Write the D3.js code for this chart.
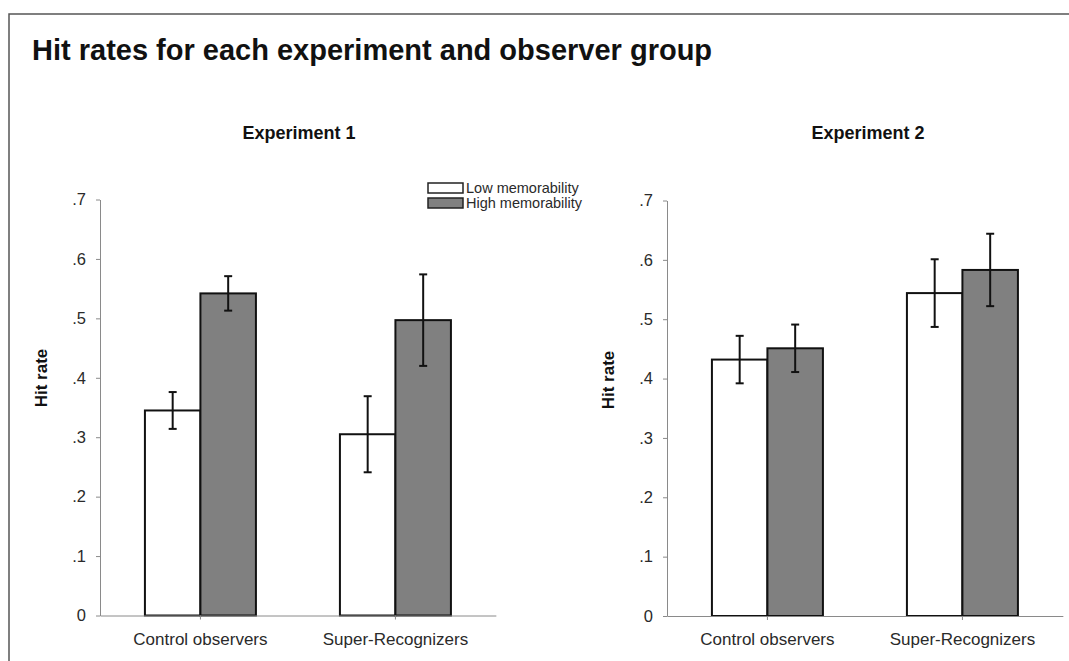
<!DOCTYPE html>
<html>
<head>
<meta charset="utf-8">
<script src="https://cdn.jsdelivr.net/npm/d3@7"></script>
<style>
  html, body { margin: 0; padding: 0; background: #fff; }
  svg { display: block; font-family: "Liberation Sans", Arial, Helvetica, sans-serif; }
</style>
</head>
<body>
<div id="chart"></div>
<script>
// --------------- Data ---------------
const groups = ["Control observers", "Super-Recognizers"];
const series = ["Low memorability", "High memorability"];
const tickValues = [0, 0.1, 0.2, 0.3, 0.4, 0.5, 0.6, 0.7];
const tickLabels = ["0", ".1", ".2", ".3", ".4", ".5", ".6", ".7"];

const exp1Low = [0.345, 0.305];
const exp1LowErr = [0.031, 0.064];
const exp1High = [0.542, 0.497];
const exp1HighErr = [0.029, 0.077];

const exp2Low = [0.432, 0.544];
const exp2LowErr = [0.040, 0.057];
const exp2High = [0.451, 0.583];
const exp2HighErr = [0.040, 0.061];

// --------------- Constants ---------------
const WIDTH = 1069;
const HEIGHT = 661;
const FILL = { "Low memorability": "#ffffff", "High memorability": "#808080" };
const AXIS_COLOR = "#8a8a8a";
const TEXT_COLOR = "#2a2a2a";

const svg = d3.select("#chart")
  .append("svg")
  .attr("width", WIDTH)
  .attr("height", HEIGHT);

// outer frame (left + top edges only)
svg.append("path")
  .attr("d", `M9,${HEIGHT} V14 H${WIDTH}`)
  .attr("fill", "none")
  .attr("stroke", "#555")
  .attr("stroke-width", 1.5);

svg.append("text")
  .attr("x", 32)
  .attr("y", 60)
  .attr("font-size", 29)
  .attr("font-weight", "bold")
  .attr("fill", "#111")
  .text("Hit rates for each experiment and observer group");

function buildRows(low, lowErr, high, highErr) {
  return groups.map((g, i) => ({
    group: g,
    bars: [
      { key: series[0], value: low[i], err: lowErr[i] },
      { key: series[1], value: high[i], err: highErr[i] }
    ]
  }));
}

function renderPanel(opts) {
  const { title, rows, x0, yTop, yBottom, titleX, labelX, labelY } = opts;

  const y = d3.scaleLinear().domain([0, 0.7]).range([yBottom, yTop]);
  const x = d3.scaleBand()
    .domain(groups)
    .range([x0, x0 + 195 * 2.03])
    .paddingInner(0)
    .paddingOuter(0.015);
  const xs = d3.scaleBand().domain(series).range([-55.5, 55.5]);

  const g = svg.append("g");

  g.append("text")
    .attr("x", titleX)
    .attr("y", 139)
    .attr("text-anchor", "middle")
    .attr("font-size", 18)
    .attr("font-weight", "bold")
    .attr("fill", "#111")
    .text(title);

  g.append("text")
    .attr("transform", `translate(${labelX},${labelY}) rotate(-90)`)
    .attr("text-anchor", "middle")
    .attr("font-size", 17)
    .attr("font-weight", "bold")
    .attr("fill", "#111")
    .text("Hit rate");

  // y axis
  const yAxis = g.append("g")
    .attr("transform", `translate(${x0},0)`)
    .call(d3.axisLeft(y)
      .tickValues(tickValues)
      .tickFormat((d, i) => tickLabels[i])
      .tickSize(4)
      .tickSizeOuter(0)
      .tickPadding(10));
  yAxis.selectAll("path, line").attr("stroke", AXIS_COLOR);
  yAxis.selectAll("text")
    .attr("font-size", 16.5)
    .attr("font-family", "inherit")
    .attr("fill", TEXT_COLOR);

  // bars
  const grp = g.append("g")
    .selectAll("g")
    .data(rows)
    .enter()
    .append("g")
    .attr("transform", (d) => `translate(${x(d.group) + x.bandwidth() / 2},0)`);

  grp.selectAll("rect")
    .data((d) => d.bars)
    .enter()
    .append("rect")
    .attr("x", (d) => xs(d.key))
    .attr("width", xs.bandwidth())
    .attr("y", (d) => y(d.value))
    .attr("height", (d) => y(0) - y(d.value))
    .attr("fill", (d) => FILL[d.key])
    .attr("stroke", "#111")
    .attr("stroke-width", 2);

  // x axis (drawn after bars so the baseline sits on top)
  const xAxis = g.append("g")
    .attr("transform", `translate(0,${y(0)})`)
    .call(d3.axisBottom(x).tickSize(4).tickSizeOuter(0).tickPadding(13));
  xAxis.select(".domain").attr("stroke", AXIS_COLOR);
  xAxis.selectAll("line").attr("stroke", AXIS_COLOR);
  xAxis.selectAll("text")
    .attr("font-size", 17)
    .attr("font-family", "inherit")
    .attr("fill", TEXT_COLOR);

  // error bars
  const eb = grp.selectAll("g.err")
    .data((d) => d.bars)
    .enter()
    .append("g")
    .attr("class", "err")
    .attr("stroke", "#111")
    .attr("stroke-width", 2);

  const cx = (d) => xs(d.key) + xs.bandwidth() / 2;
  eb.append("line")
    .attr("x1", cx).attr("x2", cx)
    .attr("y1", (d) => y(d.value + d.err))
    .attr("y2", (d) => y(d.value - d.err));
  eb.append("line")
    .attr("x1", (d) => cx(d) - 4).attr("x2", (d) => cx(d) + 4)
    .attr("y1", (d) => y(d.value + d.err))
    .attr("y2", (d) => y(d.value + d.err));
  eb.append("line")
    .attr("x1", (d) => cx(d) - 4).attr("x2", (d) => cx(d) + 4)
    .attr("y1", (d) => y(d.value - d.err))
    .attr("y2", (d) => y(d.value - d.err));
}

renderPanel({
  title: "Experiment 1",
  rows: buildRows(exp1Low, exp1LowErr, exp1High, exp1HighErr),
  x0: 100, yTop: 199.5, yBottom: 615.5,
  titleX: 299, labelX: 47, labelY: 378
});

renderPanel({
  title: "Experiment 2",
  rows: buildRows(exp2Low, exp2LowErr, exp2High, exp2HighErr),
  x0: 667, yTop: 200.5, yBottom: 616,
  titleX: 868, labelX: 614, labelY: 380
});

// legend
const legend = svg.append("g").attr("transform", "translate(428,183)");
const item = legend.selectAll("g")
  .data(series)
  .enter()
  .append("g")
  .attr("transform", (d, i) => `translate(0,${i * 15})`);
item.append("rect")
  .attr("width", 35)
  .attr("height", 10)
  .attr("fill", (d) => FILL[d])
  .attr("stroke", "#222")
  .attr("stroke-width", 1.5);
item.append("text")
  .attr("x", 38)
  .attr("y", 10)
  .attr("font-size", 14.5)
  .attr("fill", TEXT_COLOR)
  .text((d) => d);
</script>
</body>
</html>
